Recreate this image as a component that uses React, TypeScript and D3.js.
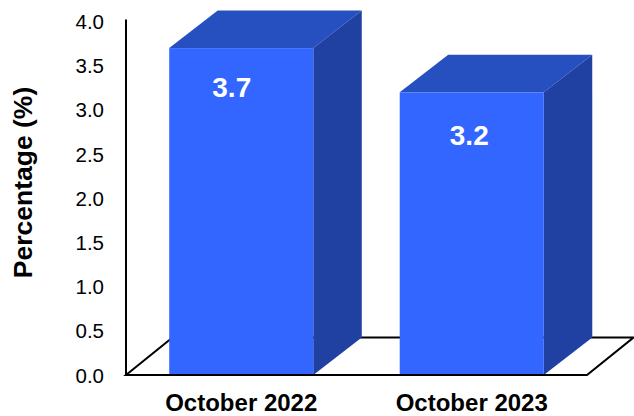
import { useEffect, useRef } from "react";
import * as d3 from "d3";

const W = 634;
const H = 416;
const PAD = { top: 21.6, bottom: 375, left: 126, right: 587 };
const DEPTH = { x: 48.5, y: -37.5 };
const FLOOR_DX = 46.5;
const FONT = "'Liberation Sans', Arial, sans-serif";

const categories = ["October 2022", "October 2023"];
const values = [3.7, 3.2];
const yTicks = [0, 0.5, 1, 1.5, 2, 2.5, 3, 3.5, 4];

const FRONT = "#3366ff";
const TOP = "#264fc0";
const SIDE = "#2040a2";

export default function App() {
  const svgRef = useRef<SVGSVGElement>(null);

  useEffect(() => {
    document.body.style.margin = "0";
    const svg = d3.select(svgRef.current);
    if (!svg.node()) return;
    svg.selectAll("*").remove();

    const x = d3
      .scaleBand()
      .domain(categories)
      .range([PAD.left, PAD.right])
      .paddingInner(0.375)
      .paddingOuter(0.1875);

    const y = d3.scaleLinear().domain([0, 4]).range([PAD.bottom, PAD.top]);

    const line = d3.line();
    const poly = (pts: [number, number][]) => line(pts) + "Z";

    // floor parallelogram and the y axis
    const y0 = y(0);
    svg
      .append("path")
      .attr(
        "d",
        poly([
          [PAD.left, y0],
          [PAD.left + FLOOR_DX, y0 + DEPTH.y],
          [PAD.right + FLOOR_DX, y0 + DEPTH.y],
          [PAD.right, y0],
        ]),
      )
      .attr("fill", "none")
      .attr("stroke", "#000")
      .attr("stroke-width", 2);

    svg
      .append("line")
      .attr("x1", PAD.left)
      .attr("x2", PAD.left)
      .attr("y1", y(4) - 2)
      .attr("y2", y0 + 1)
      .attr("stroke", "#000")
      .attr("stroke-width", 2);

    svg
      .selectAll(".y-tick")
      .data(yTicks)
      .enter()
      .append("text")
      .attr("class", "y-tick")
      .attr("x", 104)
      .attr("y", (d) => y(d) + 7.5)
      .attr("text-anchor", "end")
      .style("font-family", FONT)
      .style("font-size", "20.5px")
      .attr("fill", "#000")
      .text((d) => d.toFixed(1));

    const bars = svg
      .selectAll(".bar")
      .data(values)
      .enter()
      .append("g")
      .attr("class", "bar");

    const left = (_d: number, i: number) => x(categories[i])!;
    const right = (d: number, i: number) => left(d, i) + x.bandwidth();

    bars
      .append("path")
      .attr("fill", TOP)
      .attr("d", (d, i) =>
        poly([
          [left(d, i), y(d)],
          [left(d, i) + DEPTH.x, y(d) + DEPTH.y],
          [right(d, i) + DEPTH.x, y(d) + DEPTH.y],
          [right(d, i), y(d)],
        ]),
      );

    bars
      .append("path")
      .attr("fill", SIDE)
      .attr("d", (d, i) =>
        poly([
          [right(d, i), y(d)],
          [right(d, i) + DEPTH.x, y(d) + DEPTH.y],
          [right(d, i) + DEPTH.x, y0 + DEPTH.y],
          [right(d, i), y0],
        ]),
      );

    bars
      .append("rect")
      .attr("fill", FRONT)
      .attr("x", left)
      .attr("y", (d) => y(d))
      .attr("width", x.bandwidth())
      .attr("height", (d) => y0 - y(d));

    // redraw the front edge of the floor over the bars
    svg
      .append("line")
      .attr("x1", PAD.left)
      .attr("x2", PAD.right)
      .attr("y1", y0)
      .attr("y2", y0)
      .attr("stroke", "#000")
      .attr("stroke-width", 2);

    // value labels sit off-centre in the source, by a different amount per bar
    bars
      .append("text")
      .attr("x", (d, i) => left(d, i) + x.bandwidth() / 2 + (i === 0 ? -9.5 : -2.5))
      .attr("y", (d, i) => y(d) + (i === 0 ? 49 : 52.5))
      .attr("text-anchor", "middle")
      .style("font-family", FONT)
      .style("font-size", "28px")
      .style("font-weight", "bold")
      .attr("fill", "#fff")
      .text((d) => d.toFixed(1));

    svg
      .selectAll(".x-label")
      .data(categories)
      .enter()
      .append("text")
      .attr("class", "x-label")
      .attr("x", (d) => x(d)! + x.bandwidth() / 2)
      .attr("y", 411)
      .attr("text-anchor", "middle")
      .style("font-family", FONT)
      .style("font-size", "24px")
      .style("font-weight", "bold")
      .attr("fill", "#000")
      .text((d) => d);

    svg
      .append("text")
      .attr("transform", "translate(32,182.5) rotate(-90)")
      .attr("text-anchor", "middle")
      .style("font-family", FONT)
      .style("font-size", "26.5px")
      .style("font-weight", "bold")
      .attr("fill", "#000")
      .text("Percentage (%)");
  }, []);

  return <svg ref={svgRef} width={W} height={H} style={{ display: "block" }} />;
}
